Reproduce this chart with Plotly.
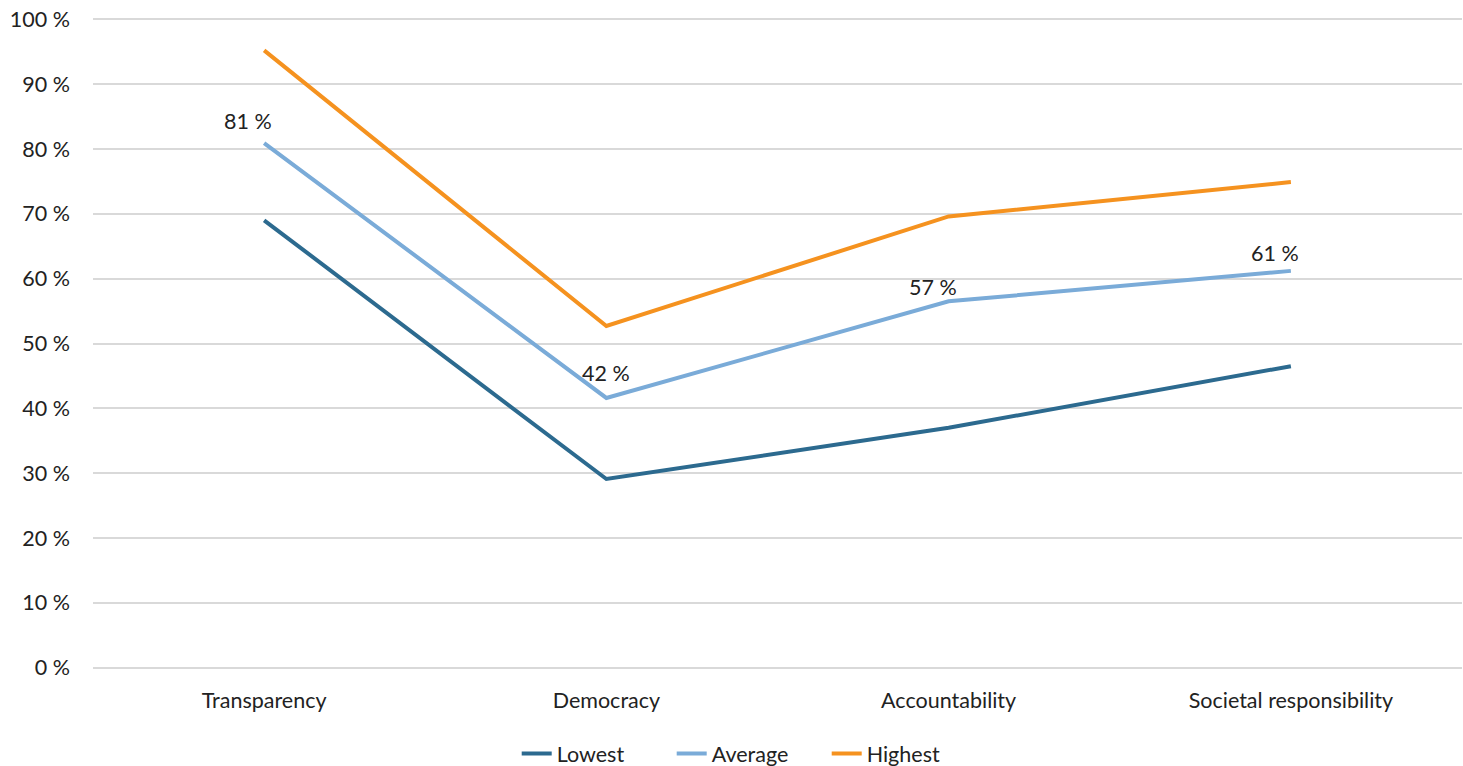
import plotly.graph_objects as go

categories = ["Transparency", "Democracy", "Accountability", "Societal responsibility"]
lowest = [69.0, 29.1, 37.0, 46.5]
average = [80.9, 41.6, 56.5, 61.2]
highest = [95.2, 52.7, 69.6, 74.9]
avg_labels = ["81 %", "42 %", "57 %", "61 %"]
y_ticks = list(range(0, 101, 10))
y_ticktext = [f"{v} %" for v in y_ticks]

FONT = "Lato"
FS = 21.5
fig = go.Figure()
fig.add_trace(go.Scatter(x=categories, y=lowest, mode="lines", name="Lowest",
                         line=dict(color="#2C6A8F", width=4)))
fig.add_trace(go.Scatter(x=categories, y=average, mode="lines", name="Average",
                         line=dict(color="#7AABD8", width=4)))
fig.add_trace(go.Scatter(x=categories, y=highest, mode="lines", name="Highest",
                         line=dict(color="#F5921F", width=4)))

xshifts = [-16, 0, -16, -16]
yshifts = [22, 25, 14, 18]
for c, v, t, xs, ys in zip(categories, average, avg_labels, xshifts, yshifts):
    fig.add_annotation(x=c, y=v, text=t, showarrow=False, xshift=xs, yshift=ys,
                       font=dict(family=FONT, size=FS, color="#222"))

fig.update_layout(
    width=1463, height=766,
    margin=dict(l=93, r=1, t=18, b=97, autoexpand=False),
    paper_bgcolor="white", plot_bgcolor="white",
    font=dict(family=FONT, size=FS, color="#222"),
    showlegend=True,
    legend=dict(orientation="h", x=0.3095, xanchor="left", y=-0.13, yanchor="middle",
                font=dict(family=FONT, size=FS, color="#222"), itemwidth=30,
                entrywidth=110, entrywidthmode="pixels", tracegroupgap=0),
)
fig.update_xaxes(showgrid=False, showline=False, zeroline=False, ticks="",
                 ticklabelstandoff=16, range=[-0.5, 3.5], automargin=False)
fig.update_yaxes(range=[-0.2, 100.2], tickvals=y_ticks, ticktext=y_ticktext,
                 showgrid=True, gridcolor="#D9D9D9", gridwidth=2, zeroline=False,
                 showline=False, ticks="", ticklabelstandoff=22, automargin=False)

fig.write_html("out.html", config={"displayModeBar": False},
               post_script="document.body.style.margin='0';document.body.style.overflow='hidden';")
